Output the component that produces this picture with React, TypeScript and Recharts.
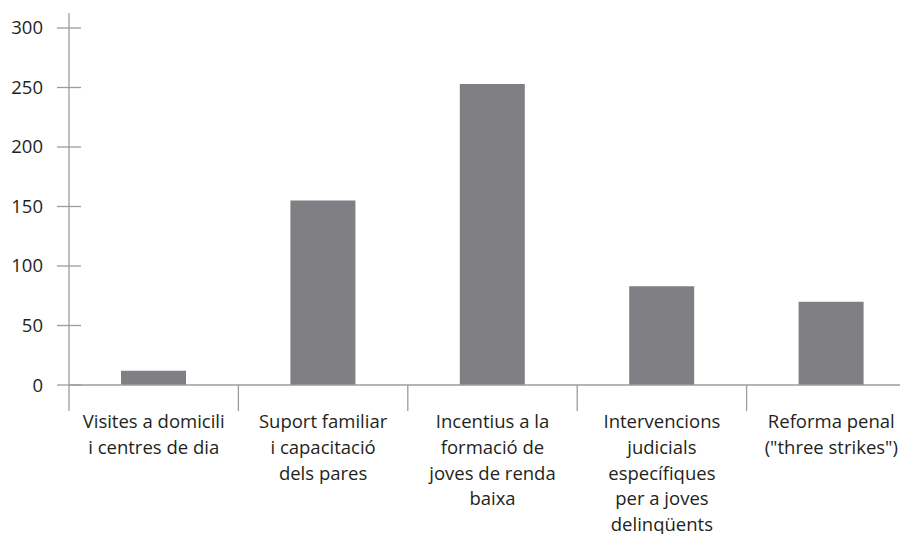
import { Bar, BarChart, XAxis, YAxis } from "recharts";

const categories = [
  "Visites a domicili\ni centres de dia",
  "Suport familiar\ni capacitació\ndels pares",
  "Incentius a la\nformació de\njoves de renda\nbaixa",
  "Intervencions\njudicials\nespecífiques\nper a joves\ndelinqüents",
  "Reforma penal\n(\"three strikes\")",
];
const values = [12, 155, 253, 83, 70];
const yTicks = [0, 50, 100, 150, 200, 250, 300];

const data = categories.map((name, i) => ({ name, value: values[i] }));

const CHART_W = 916;
const CHART_H = 534;
const Y_AXIS_W = 69;
const BAND = (CHART_W - Y_AXIS_W) / categories.length;
const AXIS_COLOR = "#9c9c9c";
const TEXT_COLOR = "#231f20";
const FONT = "'Open Sans', Roboto, sans-serif";
const FONT_SIZE = 18.5;
const Y_MARGIN = 26;

function YTick(props: any) {
  const { x, y, payload } = props;
  const ax = x + Y_MARGIN;
  return (
    <g>
      <line x1={ax - 12} x2={ax + 12} y1={y} y2={y} stroke={AXIS_COLOR} strokeWidth={1.3} />
      <text x={x} y={y} dy={6.5} textAnchor="end" fill={TEXT_COLOR} fontSize={FONT_SIZE} fontFamily={FONT}>
        {payload.value}
      </text>
    </g>
  );
}

function XTick(props: any) {
  const { x, y, payload } = props;
  const lines = String(payload.value).split("\n");
  const left = x - BAND / 2;
  return (
    <g>
      <line x1={left} x2={left} y1={y} y2={y + 26} stroke={AXIS_COLOR} strokeWidth={1.3} />
      <text textAnchor="middle" fill={TEXT_COLOR} fontSize={FONT_SIZE} fontFamily={FONT}>
        {lines.map((line, i) => (
          <tspan key={i} x={x} y={y + 43 + i * 25.8}>
            {line}
          </tspan>
        ))}
      </text>
    </g>
  );
}

export default function App() {
  return (
    <div
      style={{
        position: "absolute",
        left: 0,
        top: 0,
        width: 900,
        height: 534,
        overflow: "hidden",
        background: "#fff",
      }}
    >
      <BarChart
        width={CHART_W}
        height={CHART_H}
        data={data}
        margin={{ top: 13, right: 0, bottom: 0, left: 0 }}
        barCategoryGap={0}
      >
        <XAxis
          dataKey="name"
          interval={0}
          height={149}
          tickSize={0}
          tickMargin={0}
          tickLine={false}
          axisLine={{ stroke: AXIS_COLOR, strokeWidth: 1.3 }}
          tick={<XTick />}
        />
        <YAxis
          width={Y_AXIS_W}
          domain={[0, 312.6]}
          ticks={yTicks}
          interval={0}
          tickSize={0}
          tickMargin={Y_MARGIN}
          tickLine={false}
          axisLine={{ stroke: AXIS_COLOR, strokeWidth: 1.3 }}
          tick={<YTick />}
        />
        <Bar dataKey="value" fill="#808084" barSize={65} isAnimationActive={false} />
      </BarChart>
    </div>
  );
}
